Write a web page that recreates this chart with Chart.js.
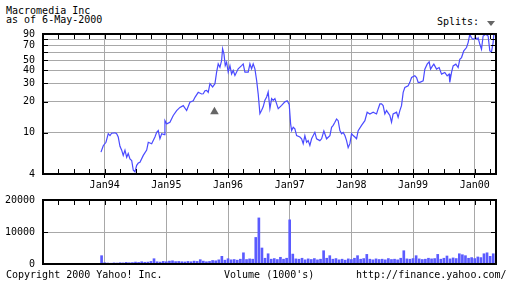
<!DOCTYPE html>
<html>
<head>
<meta charset="utf-8">
<script src="https://cdn.jsdelivr.net/npm/chart.js@4"></script>
<style>
  body { margin: 0; width: 512px; height: 288px; background: #fff; position: relative; overflow: hidden;
         font: 10px 'DejaVu Sans Mono', monospace; color: #000; }
  .t { position: absolute; line-height: 10px; white-space: pre; }
  #price { position: absolute; left: 0; top: 0; }
  #volume { position: absolute; left: 0; top: 186px; }
  .split { position: absolute; left: 487px; top: 21px; width: 0; height: 0;
           border-left: 4px solid transparent; border-right: 4px solid transparent; border-top: 5px solid #666; }
</style>
</head>
<body>
<div class="t" style="left:6px; top:6px">Macromedia Inc</div>
<div class="t" style="left:6px; top:15px">as of 6-May-2000</div>
<div class="t" style="left:437px; top:17px">Splits:</div>
<div class="split"></div>
<canvas id="price" width="512" height="192"></canvas>
<canvas id="volume" width="512" height="102"></canvas>
<div class="t" style="left:6px; top:270px">Copyright 2000 Yahoo! Inc.</div>
<div class="t" style="left:224px; top:270px">Volume (1000's)</div>
<div class="t" style="left:356px; top:270px">http://finance.yahoo.com/</div>
<script>
// x axis: years as decimals
const yearTicks = [1994, 1995, 1996, 1997, 1998, 1999, 2000];
const yearLabels = ['Jan94', 'Jan95', 'Jan96', 'Jan97', 'Jan98', 'Jan99', 'Jan00'];

const priceTicks = [4, 10, 20, 30, 40, 50, 60, 70, 80, 90];
const priceLabeled = [4, 10, 20, 30, 40, 50, 70, 90];
const volumeTicks = [0, 10000, 20000];

const priceDates = [
  1993.940, 1993.977, 1994.021, 1994.058, 1994.086, 1994.113, 1994.167, 1994.194, 1994.220, 1994.248,
  1994.276, 1994.301, 1994.329, 1994.357, 1994.382, 1994.410, 1994.438, 1994.464, 1994.491, 1994.519,
  1994.545, 1994.572, 1994.626, 1994.681, 1994.707, 1994.762, 1994.815, 1994.843, 1994.869, 1994.896,
  1994.924, 1994.966, 1994.977, 1995.005, 1995.058, 1995.112, 1995.167, 1995.220, 1995.274, 1995.329,
  1995.382, 1995.436, 1995.464, 1995.517, 1995.572, 1995.598, 1995.626, 1995.653, 1995.679, 1995.707,
  1995.750, 1995.788, 1995.815, 1995.841, 1995.869, 1995.896, 1995.912, 1995.934, 1995.955, 1995.977,
  1996.003, 1996.031, 1996.058, 1996.084, 1996.112, 1996.165, 1996.220, 1996.246, 1996.274, 1996.327,
  1996.355, 1996.382, 1996.408, 1996.436, 1996.464, 1996.489, 1996.517, 1996.545, 1996.570, 1996.598,
  1996.626, 1996.651, 1996.679, 1996.707, 1996.733, 1996.760, 1996.814, 1996.869, 1996.922, 1996.959,
  1996.992, 1997.015, 1997.031, 1997.057, 1997.084, 1997.112, 1997.165, 1997.193, 1997.219, 1997.246,
  1997.274, 1997.300, 1997.327, 1997.355, 1997.408, 1997.436, 1997.489, 1997.517, 1997.554, 1997.598,
  1997.652, 1997.679, 1997.705, 1997.733, 1997.760, 1997.786, 1997.814, 1997.841, 1997.867, 1997.895,
  1997.922, 1997.948, 1997.976, 1998.003, 1998.029, 1998.057, 1998.084, 1998.110, 1998.165, 1998.219,
  1998.256, 1998.300, 1998.353, 1998.408, 1998.434, 1998.462, 1998.489, 1998.515, 1998.543, 1998.570,
  1998.624, 1998.651, 1998.677, 1998.733, 1998.758, 1998.786, 1998.813, 1998.840, 1998.867, 1998.921,
  1998.948, 1998.976, 1999.029, 1999.057, 1999.083, 1999.110, 1999.164, 1999.191, 1999.229, 1999.261,
  1999.284, 1999.316, 1999.337, 1999.381, 1999.423, 1999.462, 1999.515, 1999.553, 1999.585, 1999.596,
  1999.624, 1999.650, 1999.694, 1999.731, 1999.758, 1999.786, 1999.823, 1999.867, 1999.893, 1999.920,
  1999.948, 1999.974, 2000.018, 2000.039, 2000.055, 2000.083, 2000.110, 2000.136, 2000.180, 2000.217,
  2000.245, 2000.272, 2000.298, 2000.314, 2000.334
];
const priceValues = [
  6.5, 7.5, 8.1, 9.8, 9.4, 9.9, 10.0, 9.8, 9.1, 7.4,
  6.8, 6.05, 6.8, 5.8, 6.3, 5.6, 5.4, 4.35, 4.2, 4.85,
  5.1, 5.2, 6.05, 6.8, 8.1, 7.85, 9.1, 10.1, 10.5, 8.75,
  9.8, 9.6, 13.1, 12.2, 12.65, 14.7, 16.4, 17.6, 18.3, 16.4,
  19.7, 20.4, 22, 24.6, 23.7, 23.8, 25.5, 25.7, 24.6, 29.8,
  27.7, 29.8, 38.5, 46.3, 43, 49.9, 64.8, 57.9, 44.6, 48.1,
  38.5, 44.6, 37, 40, 35.8, 41.5, 44.6, 46.3, 38.5, 38.5,
  46.3, 41.5, 46.3, 41.5, 32, 23.8, 15.3, 16.5, 17.8, 20.6,
  22.2, 24.8, 17.1, 21.4, 20.6, 21.4, 17.1, 18.4, 19.9, 20.4,
  18.8, 12.2, 10.5, 11.3, 10.9, 9.4, 9.1, 8.75, 7.85, 9.4,
  8.1, 8.4, 7.55, 8.75, 10.1, 8.75, 8.4, 8.75, 10.4, 8.75,
  9.4, 11.3, 11.8, 12.65, 13.6, 13.1, 10.5, 9.8, 10.1, 9.4,
  8.4, 7.2, 7.85, 9.8, 9.4, 9.1, 8.75, 10.5, 11.8, 13.1,
  15.8, 15.2, 15.8, 15.2, 17, 19, 19, 18.3, 15.2, 16.4,
  14.7, 12.65, 15.2, 15.8, 14.1, 16.4, 18.3, 24.6, 27.4, 28.5,
  30.7, 34.2, 35.5, 34.2, 30.7, 30.7, 31.8, 41.2, 46, 48.4,
  41.2, 44.3, 46, 41.2, 42.7, 36.9, 38.3, 35.5, 36.9, 30.7,
  38.3, 44.3, 46, 42.7, 51.3, 53.3, 61.8, 66.6, 74.3, 89.3,
  82.6, 79.9, 82.6, 79.9, 82.6, 71.6, 64, 86, 89.3, 86,
  61.8, 60.5, 74.3, 95, 88
];

// split marker (date, price level where the triangle sits)
const splitDates = [1995.78];
const splitLevels = [16];

// volume in thousands
const volumeDates = [
  1993.95, 1994.00, 1994.05, 1994.10, 1994.15, 1994.20, 1994.25, 1994.30, 1994.35, 1994.40,
  1994.45, 1994.50, 1994.55, 1994.60, 1994.65, 1994.70, 1994.75, 1994.80, 1994.85, 1994.90,
  1994.95, 1995.00, 1995.05, 1995.10, 1995.15, 1995.20, 1995.25, 1995.30, 1995.35, 1995.40,
  1995.45, 1995.50, 1995.55, 1995.60, 1995.65, 1995.70, 1995.75, 1995.80, 1995.85, 1995.90,
  1995.95, 1996.00, 1996.05, 1996.10, 1996.15, 1996.20, 1996.25, 1996.30, 1996.35, 1996.40,
  1996.45, 1996.50, 1996.55, 1996.60, 1996.65, 1996.70, 1996.75, 1996.80, 1996.85, 1996.90,
  1996.95, 1997.00, 1997.05, 1997.10, 1997.15, 1997.20, 1997.25, 1997.30, 1997.35, 1997.40,
  1997.45, 1997.50, 1997.55, 1997.60, 1997.65, 1997.70, 1997.75, 1997.80, 1997.85, 1997.90,
  1997.95, 1998.00, 1998.05, 1998.10, 1998.15, 1998.20, 1998.25, 1998.30, 1998.35, 1998.40,
  1998.45, 1998.50, 1998.55, 1998.60, 1998.65, 1998.70, 1998.75, 1998.80, 1998.85, 1998.90,
  1998.95, 1999.00, 1999.05, 1999.10, 1999.15, 1999.20, 1999.25, 1999.30, 1999.35, 1999.40,
  1999.45, 1999.50, 1999.55, 1999.60, 1999.65, 1999.70, 1999.75, 1999.80, 1999.85, 1999.90,
  1999.95, 2000.00, 2000.05, 2000.10, 2000.15, 2000.20, 2000.25, 2000.30
];
const volumeValues = [
  2600, 400, 300, 250, 350, 300, 400, 350, 500, 400,
  450, 600, 500, 700, 550, 600, 800, 1650, 700, 600,
  800, 700, 900, 1000, 750, 800, 700, 650, 800, 700,
  900, 800, 1350, 900, 700, 800, 1100, 1000, 1300, 2400,
  1200, 1650, 1300, 1400, 1200, 1500, 3500, 1400, 1600, 1500,
  8300, 14400, 5000, 1800, 3200, 1500, 1700, 1400, 2100, 1500,
  1800, 13800, 3100, 1600, 1500, 1800, 1300, 1600, 1400, 1700,
  1300, 1500, 4150, 1800, 2600, 1500, 1700, 1300, 1500, 1200,
  1600, 1400, 1800, 2600, 1500, 1700, 3000, 1500, 1300, 1600,
  1400, 1500, 1300, 1700, 1400, 1500, 1300, 1800, 4150, 1600,
  1500, 1700, 2600, 1600, 1400, 1500, 1800, 1600, 1700, 3000,
  1500, 1800, 2500, 1600, 1900, 1700, 3200, 2900, 2600, 1800,
  2000, 1700, 2200, 2000, 3200, 3500, 2400, 3200
];

const X_MIN = 1993, X_MAX = 2000.345;
const GRID = '#a8a8a8';

Chart.defaults.font.family = "'DejaVu Sans Mono', monospace";
Chart.defaults.font.size = 10;
Chart.defaults.color = '#000';

// black frame + short inward ticks, like the old Yahoo charts
const framePlugin = {
  id: 'frame',
  afterDraw(chart, args, opts) {
    const { ctx, chartArea: a, scales } = chart;
    ctx.save();
    ctx.strokeStyle = '#000';
    ctx.lineWidth = 1;
    ctx.beginPath();
    for (let q = Math.ceil(scales.x.min * 4) / 4; q <= scales.x.max; q += 0.25) {
      const px = Math.round(scales.x.getPixelForValue(q)) + 0.5;
      ctx.moveTo(px, a.top); ctx.lineTo(px, a.top + 5);
      if (opts.bottomTicks) { ctx.moveTo(px, a.bottom); ctx.lineTo(px, a.bottom - 5); }
    }
    scales.y.ticks.forEach(t => {
      const py = Math.round(scales.y.getPixelForValue(t.value)) + 0.5;
      ctx.moveTo(a.left, py); ctx.lineTo(a.left + 5, py);
      ctx.moveTo(a.right, py); ctx.lineTo(a.right - 5, py);
    });
    ctx.stroke();
    ctx.lineWidth = 2;
    ctx.strokeRect(a.left, a.top, a.right - a.left, a.bottom - a.top);
    ctx.restore();
  }
};

function xScale(height, showLabels) {
  return {
    type: 'linear', min: X_MIN, max: X_MAX, offset: false,
    afterBuildTicks: s => { s.ticks = yearTicks.map(v => ({ value: v })); },
    afterFit: s => { s.height = height; },
    ticks: {
      display: showLabels, padding: 1, maxRotation: 0, autoSkip: false,
      callback: v => yearLabels[yearTicks.indexOf(v)]
    },
    grid: { color: GRID, lineWidth: 1, offset: false, drawTicks: showLabels, tickLength: 4, tickColor: '#000' },
    border: { display: false }
  };
}

new Chart(document.getElementById('price'), {
  type: 'line',
  data: {
    datasets: [
      {
        data: priceDates.map((d, i) => ({ x: d, y: priceValues[i] })),
        borderColor: '#4a4aff', borderWidth: 1.2, pointRadius: 0, tension: 0
      },
      {
        data: splitDates.map((d, i) => ({ x: d, y: splitLevels[i] })),
        showLine: false, pointStyle: 'triangle', pointRadius: 5,
        pointBackgroundColor: '#666', pointBorderColor: '#666', pointBorderWidth: 0
      }
    ]
  },
  options: {
    responsive: false, animation: false,
    layout: { padding: { top: 34, right: 16, left: 0, bottom: 0 } },
    plugins: { legend: { display: false }, tooltip: { enabled: false }, frame: { bottomTicks: true } },
    scales: {
      x: xScale(192 - 174, true),
      y: {
        type: 'logarithmic', min: 4, max: 90,
        afterBuildTicks: s => { s.ticks = priceTicks.map(v => ({ value: v })); },
        afterFit: s => { s.width = 43; },
        ticks: { padding: 8, callback: v => priceLabeled.includes(v) ? String(v) : '' },
        grid: { color: GRID, lineWidth: 1, drawTicks: false },
        border: { display: false }
      }
    }
  },
  plugins: [framePlugin]
});

// volume canvas starts at y=186; chart area ends up 200..264 on the page
new Chart(document.getElementById('volume'), {
  type: 'bar',
  data: {
    datasets: [{
      data: volumeDates.map((d, i) => ({ x: d, y: volumeValues[i] })),
      backgroundColor: '#5a5aff', barThickness: 2, borderWidth: 0
    }]
  },
  options: {
    responsive: false, animation: false,
    layout: { padding: { top: 6, right: 16, left: 0, bottom: 0 } },
    plugins: { legend: { display: false }, tooltip: { enabled: false }, frame: { bottomTicks: false } },
    scales: {
      x: xScale(102 - 78, false),
      y: {
        type: 'linear', min: 0, max: 20000,
        afterBuildTicks: s => { s.ticks = volumeTicks.map(v => ({ value: v })); },
        afterFit: s => { s.width = 43; },
        ticks: { padding: 8, callback: v => String(v) },
        grid: { color: GRID, lineWidth: 1, drawTicks: false },
        border: { display: false }
      }
    }
  },
  plugins: [framePlugin]
});
</script>
</body>
</html>
